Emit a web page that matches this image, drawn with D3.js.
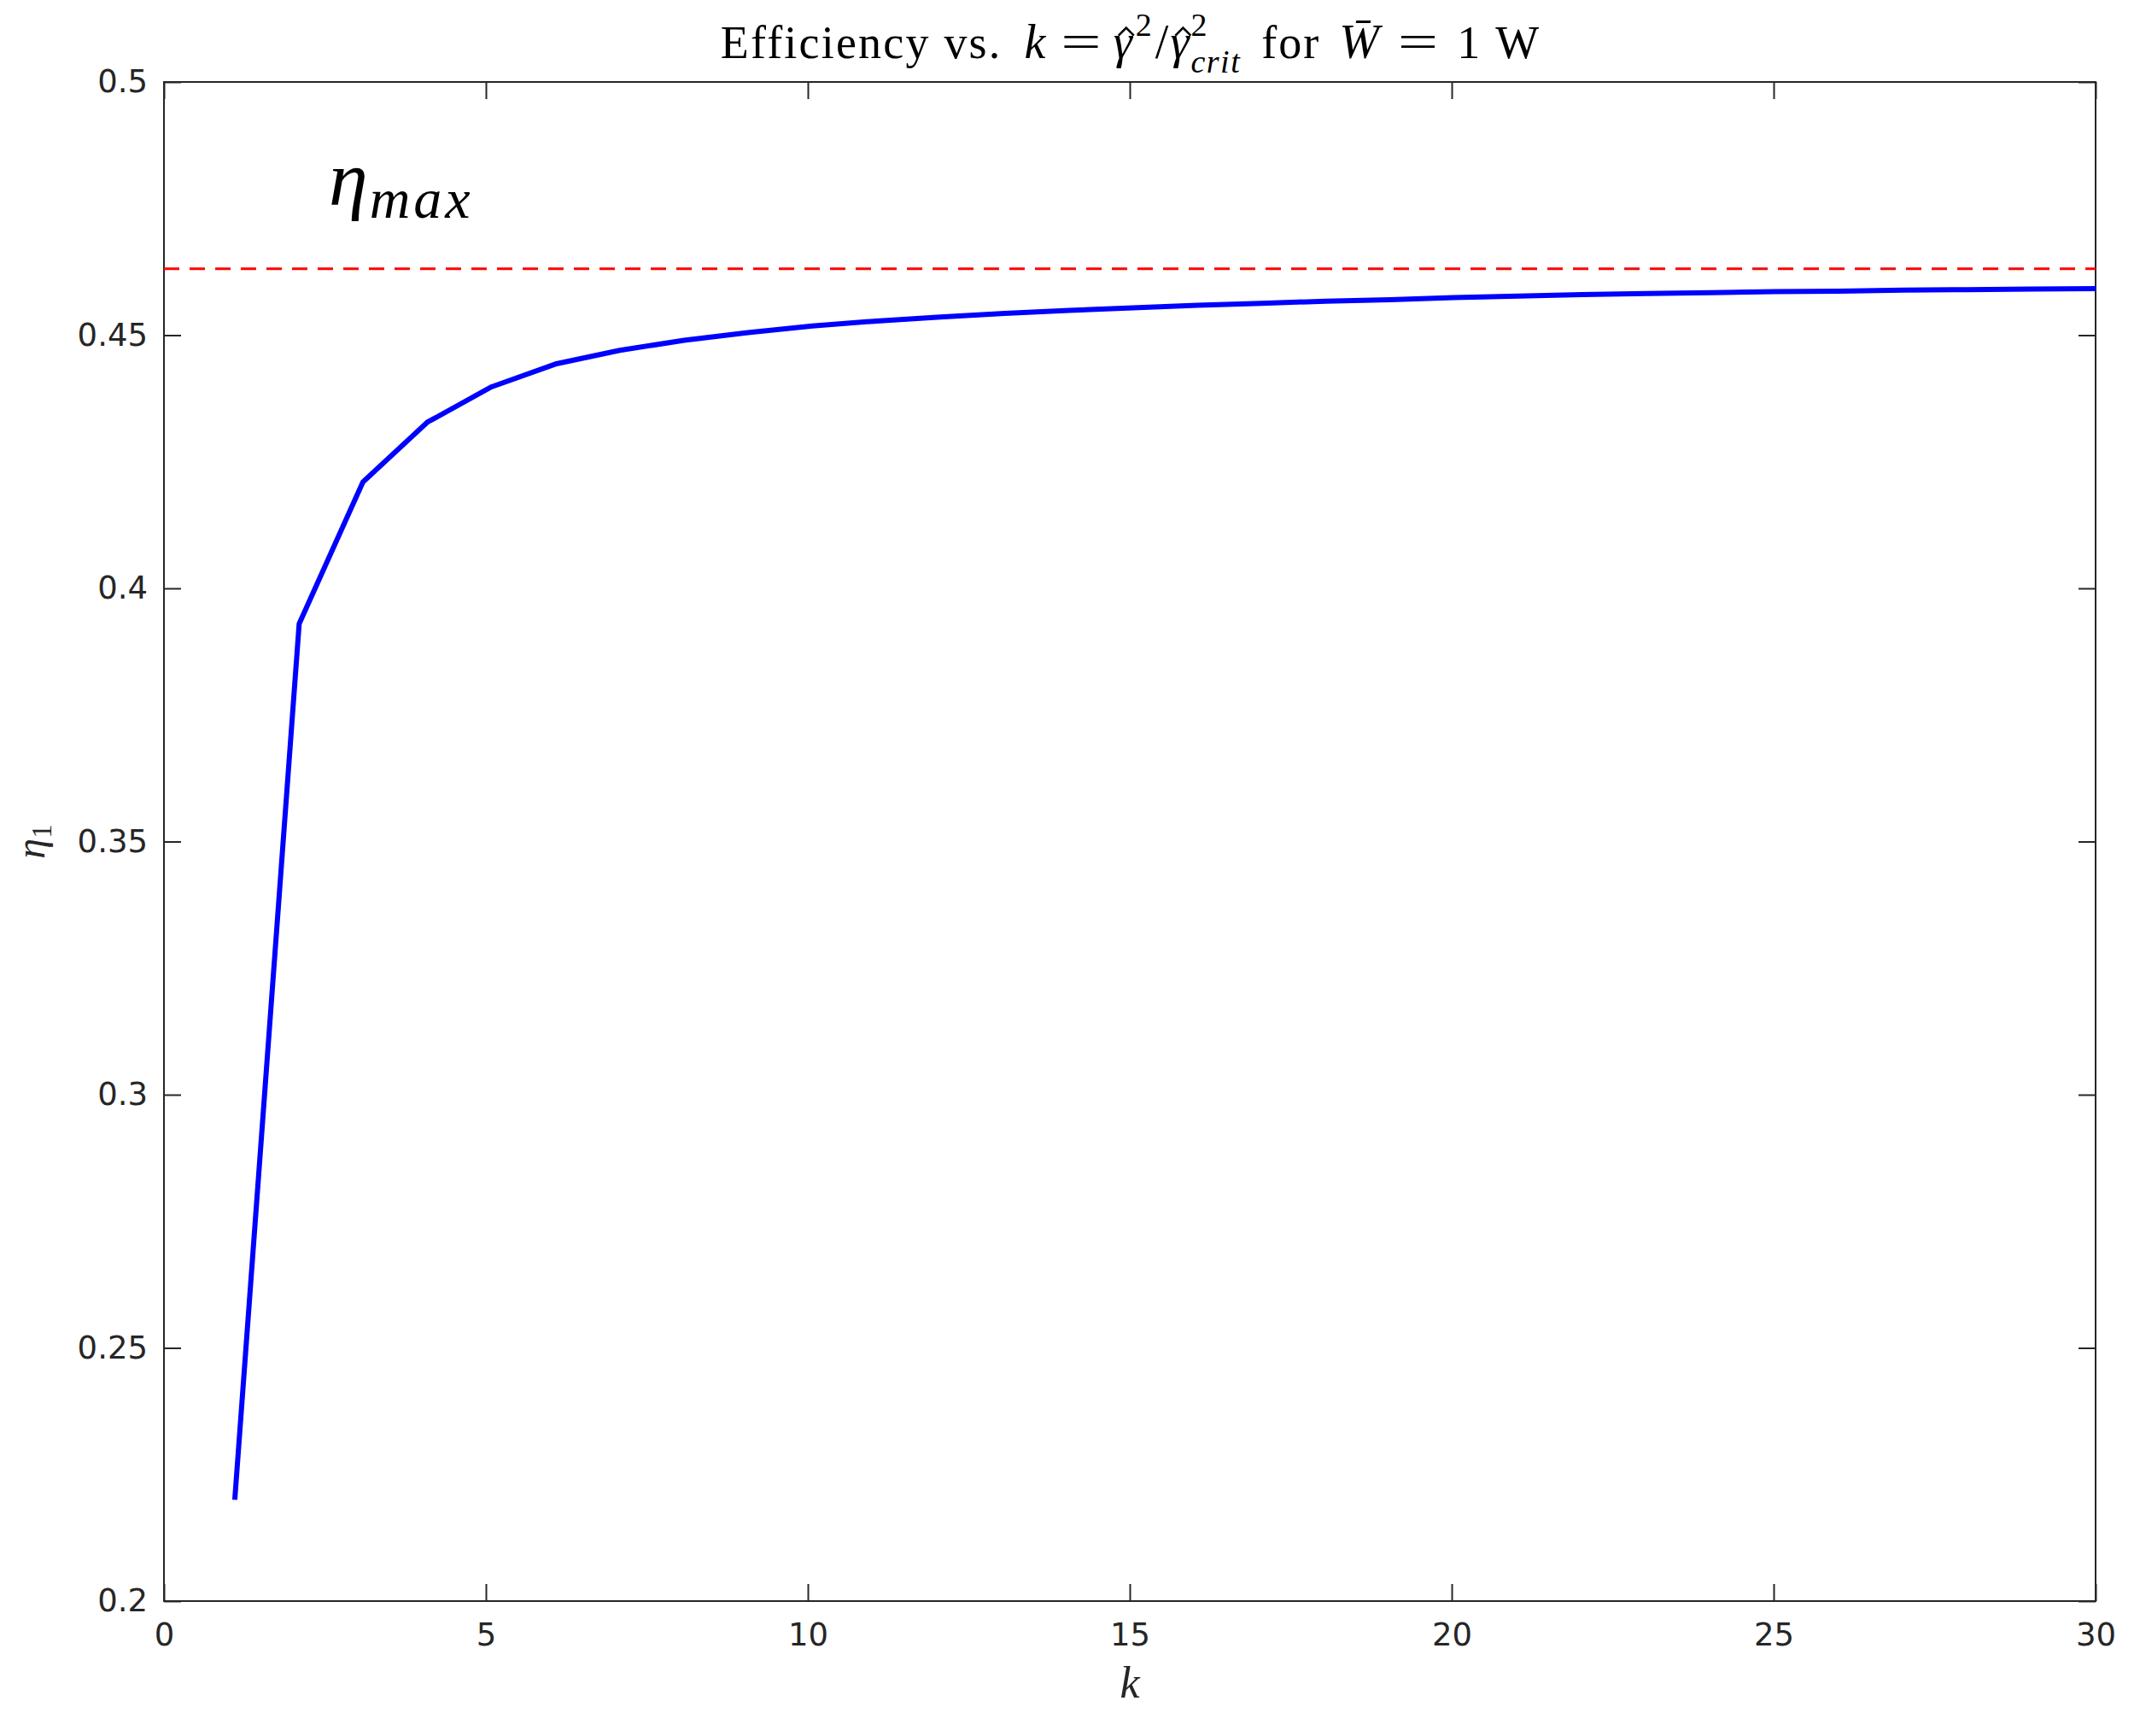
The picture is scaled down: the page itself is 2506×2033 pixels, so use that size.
<!DOCTYPE html>
<html>
<head>
<meta charset="utf-8">
<script src="https://cdn.jsdelivr.net/npm/d3@7"></script>
<style>
  body { margin: 0; background: #fff; }
  svg { display: block; }
</style>
</head>
<body>
<div id="chart-container"></div>
<script>
// values
const kValues = [1.1, 2.1, 3.09, 4.09, 5.09, 6.08, 7.08, 8.08, 9.07, 10.07,
                 11.07, 12.06, 13.06, 14.06, 15.05, 16.05, 17.04, 18.04, 19.04, 20.03,
                 21.03, 22.02, 23.02, 24.02, 25.02, 26.01, 27.01, 28.0, 29.0, 30.0]
const etaValues = [0.220, 0.393, 0.421, 0.4328, 0.4398, 0.4443, 0.4470, 0.4490, 0.4505, 0.4518,
                   0.4528, 0.4536, 0.4543, 0.4549, 0.4554, 0.4559, 0.4563, 0.4567, 0.4570, 0.4574,
                   0.4577, 0.4580, 0.4582, 0.4584, 0.4586, 0.4587, 0.4589, 0.4590, 0.4591, 0.4592]
const etaMax = 0.4631
const xTicks = [0, 5, 10, 15, 20, 25, 30]
const yTicks = [0.2, 0.25, 0.3, 0.35, 0.4, 0.45, 0.5]

const width = 2506
const height = 2033
const margin = { top: 96, right: 52, bottom: 158, left: 192 }
const axisColor = '#262626'
const serif = '"Liberation Serif", "DejaVu Serif", serif'
const sans = '"DejaVu Sans", sans-serif'

const x = d3.scaleLinear().domain([0, 30]).range([margin.left, width - margin.right])
const y = d3.scaleLinear().domain([0.2, 0.5]).range([height - margin.bottom, margin.top])

const svg = d3.select('#chart-container').append('svg')
                .attr('width', width).attr('height', height)

const fmt = d => String(+d.toFixed(2))

// axes, ticks pointing inward like matlab
const styleAxis = g => {
    g.select('.domain').remove()
    g.selectAll('.tick line').attr('stroke', axisColor).attr('stroke-width', 2)
    g.selectAll('.tick text').attr('fill', axisColor)
        .style('font-family', sans).style('font-size', '37px')
}

svg.append('g').attr('transform', `translate(0,${y(0.2)})`)
    .call(d3.axisBottom(x).tickValues(xTicks).tickFormat(fmt).tickSizeInner(-20).tickSizeOuter(0).tickPadding(26))
    .call(styleAxis)
svg.append('g').attr('transform', `translate(0,${y(0.5)})`)
    .call(d3.axisTop(x).tickValues(xTicks).tickFormat('').tickSizeInner(-20).tickSizeOuter(0))
    .call(styleAxis)
svg.append('g').attr('transform', `translate(${x(0)},0)`)
    .call(d3.axisLeft(y).tickValues(yTicks).tickFormat(fmt).tickSizeInner(-20).tickSizeOuter(0).tickPadding(19))
    .call(styleAxis)
svg.append('g').attr('transform', `translate(${x(30)},0)`)
    .call(d3.axisRight(y).tickValues(yTicks).tickFormat('').tickSizeInner(-20).tickSizeOuter(0))
    .call(styleAxis)

svg.append('rect')
    .attr('x', x(0)).attr('y', y(0.5))
    .attr('width', x(30) - x(0)).attr('height', y(0.2) - y(0.5))
    .attr('fill', 'none').attr('stroke', axisColor).attr('stroke-width', 2)

// eta max reference
svg.append('line')
    .attr('x1', x(0)).attr('x2', x(30))
    .attr('y1', y(etaMax)).attr('y2', y(etaMax))
    .attr('stroke', '#ff0000').attr('stroke-width', 3)
    .attr('stroke-dasharray', '18,12')

const line = d3.line().x((d, i) => x(kValues[i])).y(d => y(d))
svg.append('path')
    .datum(etaValues)
    .attr('d', line)
    .attr('fill', 'none')
    .attr('stroke', '#0000ff')
    .attr('stroke-width', 6)
    .attr('stroke-linejoin', 'round')

/*
 * lays out a small math-ish string piece by piece.
 * seg: {t, size, it, dy, gap, back, hat, sx}
 *   back: start at previous piece's x (stacked sub under sup)
 *   hat: draw a circumflex (as a path) centered over this piece
 *   sx: horizontal stretch (the tex "=" is wider)
 */
function mathText(parent, segs, cx, baseline, anchor) {
    const g = parent.append('g')
    let cursor = 0, prevX = 0
    segs.forEach(s => {
        const startX = s.back ? prevX : cursor + (s.gap || 0)
        const sx = s.sx || 1
        const t = g.append('text')
            .attr('transform', `translate(${startX},${s.dy || 0}) scale(${sx},1)`)
            .style('font-family', serif)
            .style('font-size', s.size + 'px')
            .style('font-style', s.it ? 'italic' : 'normal')
            .style('letter-spacing', (s.ls || 0) + 'px')
            .attr('fill', '#000')
            .text(s.t)
        const w = t.node().getComputedTextLength() * sx
        if (s.hat) {
            const hx = startX + w / 2 + (s.hatShift || 0)
            const hy = (s.dy || 0) - s.size * 0.56
            g.append('path')
                .attr('d', d3.line()([[hx - 9, hy + 5], [hx, hy - 4], [hx + 9, hy + 5]]))
                .attr('fill', 'none').attr('stroke', '#000').attr('stroke-width', 2.6)
        }
        prevX = startX
        cursor = Math.max(cursor, startX + w)
    })
    const shift = anchor === 'middle' ? cx - cursor / 2 : cx
    g.attr('transform', `translate(${shift},${baseline})`)
    return g
}

// title
mathText(svg, [
    { t: 'Efficiency vs.', size: 54, ls: 2.2 },
    { t: 'k', size: 56, it: true, gap: 26 },
    { t: '=', size: 56, gap: 18, sx: 1.5 },
    { t: 'γ', size: 56, it: true, gap: 14, hat: true, hatShift: 4 },
    { t: '2', size: 38, dy: -26, gap: 4 },
    { t: '/', size: 56, gap: 4 },
    { t: 'γ', size: 56, it: true, gap: 2, hat: true, hatShift: 4 },
    { t: '2', size: 38, dy: -26, gap: 2 },
    { t: 'crit', size: 38, it: true, dy: 17, back: true, ls: 1.5 },
    { t: 'for', size: 54, gap: 24, ls: 2 },
    { t: 'W\u0304', size: 56, it: true, gap: 22 },
    { t: '=', size: 56, gap: 22, sx: 1.5 },
    { t: '1', size: 54, gap: 22 },
    { t: 'W', size: 54, gap: 18 }
], (x(0) + x(30)) / 2, 68, 'middle')

// eta_max label
mathText(svg, [
    { t: 'η', size: 92, it: true },
    { t: 'max', size: 66, it: true, dy: 15, gap: 2, ls: 4 }
], 385, 240, 'start')

// axis labels
svg.append('text')
    .attr('x', (x(0) + x(30)) / 2).attr('y', 1988)
    .attr('text-anchor', 'middle')
    .style('font-family', serif).style('font-style', 'italic').style('font-size', '52px')
    .attr('fill', axisColor)
    .text('k')

const yl = svg.append('text')
    .attr('transform', `translate(52,${(y(0.2) + y(0.5)) / 2}) rotate(-90)`)
    .attr('text-anchor', 'middle')
    .style('font-family', serif).style('font-size', '48px').attr('fill', axisColor)
yl.append('tspan').style('font-style', 'italic').text('η')
yl.append('tspan').style('font-size', '33px').attr('dy', 8).text('1')
</script>
</body>
</html>
